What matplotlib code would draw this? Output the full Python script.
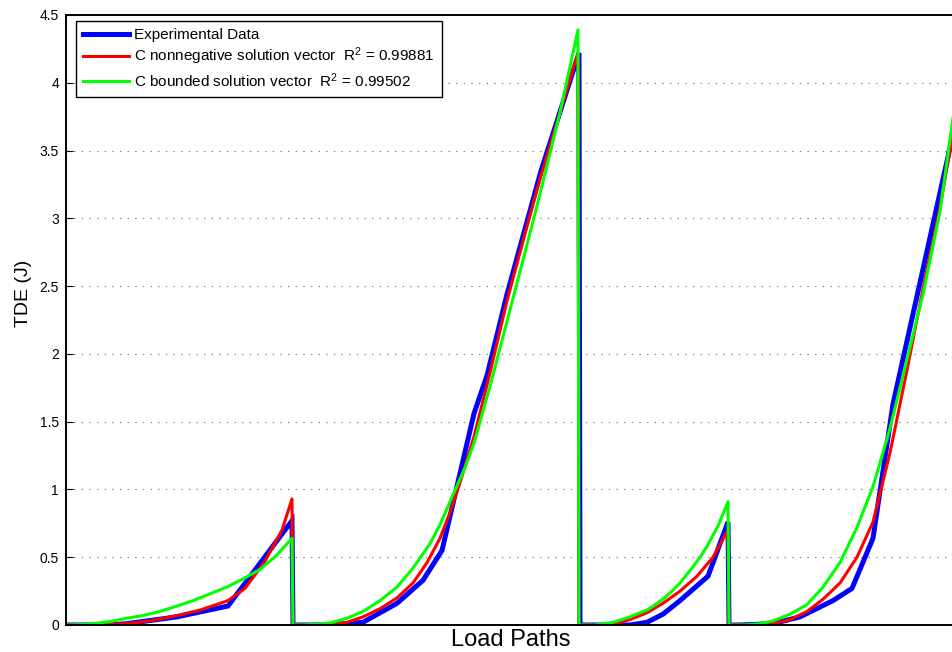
import matplotlib
matplotlib.use("Agg")
import matplotlib.pyplot as plt

plt.rcParams["font.family"] = ["Liberation Sans", "DejaVu Sans"]
plt.rcParams["mathtext.fontset"] = "custom"
plt.rcParams["mathtext.rm"] = "Liberation Sans"
plt.rcParams["mathtext.it"] = "Liberation Sans"
plt.rcParams["lines.scale_dashes"] = False

# Load step index along the four concatenated load paths
x_exp = [0, 44, 61, 111, 162, 226,
         227, 264, 297, 331, 357, 376, 408, 421, 441, 475, 513,
         514, 564, 581, 597, 614, 642, 662,
         663, 674, 707, 734, 767, 786, 807, 827, 887]
tde_exp = [0, 0, 0.01, 0.06, 0.14, 0.77,
           0, 0, 0.02, 0.16, 0.33, 0.55, 1.56, 1.84, 2.44, 3.35, 4.22,
           0, 0, 0.02, 0.08, 0.18, 0.36, 0.76,
           0, 0, 0.01, 0.06, 0.18, 0.27, 0.64, 1.63, 3.62]

x_nonneg = [0, 34, 61, 84, 111, 134, 162, 179, 199, 216, 226,
            227, 254, 264, 281, 297, 314, 331, 347, 361, 374, 384, 394, 408,
            424, 441, 458, 474, 494, 512,
            513, 544, 554, 564, 581, 597, 614, 631, 647, 662,
            663, 694, 707, 724, 741, 757, 774, 791, 807, 824, 841, 857, 874, 887]
tde_nonneg = [0, 0, 0.01, 0.03, 0.07, 0.11, 0.18, 0.27, 0.47, 0.70, 0.93,
              0, 0, 0.003, 0.02, 0.06, 0.12, 0.20, 0.31, 0.46, 0.64, 0.83, 1.05, 1.39,
              1.86, 2.39, 2.86, 3.29, 3.78, 4.22,
              0, 0, 0.02, 0.04, 0.09, 0.16, 0.25, 0.36, 0.50, 0.70,
              0, 0, 0.01, 0.04, 0.10, 0.19, 0.31, 0.50, 0.76, 1.27, 1.88, 2.48, 3.08, 3.63]

x_bounded = [0, 14, 27, 44, 61, 77, 94, 111, 127, 144, 161, 177, 194, 210, 226,
             227, 234, 244, 254, 264, 281, 297, 314, 331, 347, 364, 374, 387, 399,
             408, 424, 441, 458, 475, 494, 512,
             513, 529, 539, 547, 556, 564, 572, 581, 589, 597, 606, 614, 627, 634,
             641, 652, 662,
             663, 679, 694, 707, 724, 741, 757, 774, 791, 807, 824, 841, 857, 874, 887]
tde_bounded = [0, 0.003, 0.01, 0.025, 0.05, 0.07, 0.10, 0.14, 0.18, 0.23, 0.28, 0.34,
               0.41, 0.51, 0.64,
               0, 0, 0.003, 0.006, 0.015, 0.05, 0.10, 0.18, 0.28, 0.42, 0.60, 0.74,
               0.96, 1.16, 1.34, 1.76, 2.24, 2.72, 3.21, 3.78, 4.39,
               0, 0, 0.01, 0.02, 0.04, 0.06, 0.085, 0.11, 0.15, 0.19, 0.25, 0.31,
               0.43, 0.50, 0.58, 0.73, 0.91,
               0, 0, 0.01, 0.03, 0.08, 0.15, 0.28, 0.46, 0.72, 1.02, 1.45, 1.96,
               2.44, 3.05, 3.74]

r2_nonneg = 0.99881
r2_bounded = 0.99502

y_ticks = [0, 0.5, 1, 1.5, 2, 2.5, 3, 3.5, 4, 4.5]
y_tick_labels = ["0", "0.5", "1", "1.5", "2", "2.5", "3", "3.5", "4", "4.5"]

fig = plt.figure(figsize=(9.53, 6.52), dpi=100)
ax = fig.add_axes([66 / 953, 27 / 652, 889 / 953, 610 / 652])

ax.plot(x_exp, tde_exp, color="#0000ff", lw=3.6, solid_joinstyle="miter",
        label="Experimental Data")
ax.plot(x_nonneg, tde_nonneg, color="#ff0000", lw=2.2,
        label="C nonnegative solution vector  R$^2$ = %.5f" % r2_nonneg)
ax.plot(x_bounded, tde_bounded, color="#00ff00", lw=2.2,
        label="C bounded solution vector  R$^2$ = %.5f" % r2_bounded)

ax.set_xlim(0, 889)
ax.set_ylim(0, 4.5)
ax.set_xticks([])
ax.set_yticks(y_ticks)
ax.set_yticklabels(y_tick_labels)
ax.tick_params(axis="y", direction="in", length=5, width=0.8, labelsize=10, pad=5)

ax.yaxis.grid(True, linestyle=(0, (1, 4.5)), color="#7f7f7f", lw=0.8)
ax.set_axisbelow(True)

for side in ("left", "bottom", "top", "right"):
    ax.spines[side].set_linewidth(1.4)
    ax.spines[side].set_color("black")

ax.set_ylabel("TDE (J)", fontsize=14)
ax.yaxis.set_label_coords(-0.038, 0.543)
ax.set_xlabel("Load Paths", fontsize=17, labelpad=3)

leg = ax.legend(loc="upper left", bbox_to_anchor=(10 / 889, 1 - 6 / 610),
                borderaxespad=0, fancybox=False, framealpha=1, edgecolor="black",
                fontsize=11, handlelength=3.0, handletextpad=0.35,
                labelspacing=0.25, borderpad=0.45)
leg.get_frame().set_linewidth(1.0)

fig.savefig("out.png", dpi=100)
